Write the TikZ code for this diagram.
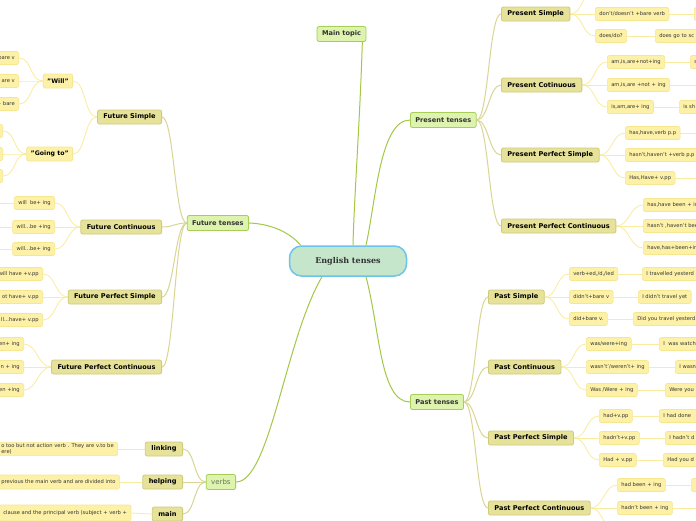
\documentclass[tikz,border=0pt]{standalone}
\usepackage{fontspec}
\setmainfont{DejaVu Sans}
\newfontfamily\cfont{DejaVu Serif}
\usetikzlibrary{calc,backgrounds}
\definecolor{cline}{HTML}{A3C846}
\definecolor{lonefill}{HTML}{DDF3AE}
\definecolor{lonedraw}{HTML}{A8CE5A}
\definecolor{ltwofill}{HTML}{E6E29A}
\definecolor{ltwodraw}{HTML}{D0CB7A}
\definecolor{ltwoline}{HTML}{D9D595}
\definecolor{leaffill}{HTML}{FDF1A8}
\definecolor{leafdraw}{HTML}{F7E690}
\definecolor{leafline}{HTML}{FAEC9E}
\definecolor{cfill}{HTML}{C6E6CB}
\definecolor{cdraw}{HTML}{6DC3EA}
\definecolor{txt}{HTML}{333333}
\definecolor{verbtxt}{HTML}{667755}
\begin{document}
\begin{tikzpicture}[x=1pt,y=-1pt,
  centre/.style={draw=cdraw,fill=cfill,line width=1.5pt,rounded corners=12pt,minimum width=117pt,minimum height=30pt,inner sep=0pt,font=\cfont\bfseries\fontsize{8}{9}\selectfont,text=txt},
  lone/.style={draw=lonedraw,fill=lonefill,line width=0.8pt,rounded corners=2pt,minimum height=15pt,inner xsep=5pt,inner ysep=0pt,font=\bfseries\fontsize{6.6}{8}\selectfont,text=txt},
  ltwo/.style={draw=ltwodraw,fill=ltwofill,line width=0.8pt,rounded corners=2pt,minimum height=14pt,inner xsep=6pt,inner ysep=0pt,font=\bfseries\fontsize{6.6}{8}\selectfont,text=black},
  leaf/.style={draw=leafdraw,fill=leaffill,line width=0.6pt,rounded corners=2pt,minimum height=13pt,inner xsep=4pt,inner ysep=1pt,font=\fontsize{5.2}{6.5}\selectfont,text=txt},
  rcut/.style={text width=60pt,align=left},
  emptyleaf/.style={leaf,minimum width=30pt},
  ccon/.style={draw=cline,line width=1pt},
  tcon/.style={draw=ltwoline,line width=1pt},
  fcon/.style={draw=leafline,line width=0.8pt}]
\useasboundingbox (0,0) rectangle (696,520);
\clip (0,0) rectangle (696,520);

% ---- central and level 1
\node[centre] (c) at (348,261) {English tenses};
\node[lone] (mt) at (341.5,34) {Main topic};
\node[lone,anchor=west] (pt) at (410,120) {Present tenses};
\node[lone,anchor=east] (ft) at (249,223) {Future tenses};
\node[lone,anchor=west] (pat) at (410,402) {Past tenses};
\node[lone,anchor=east,font=\fontsize{7}{8}\selectfont,text=verbtxt,inner xsep=5pt] (vb) at (236,482) {verbs};

% ---- level 2 right
\node[ltwo,anchor=west] (ps) at (501,14) {Present Simple};
\node[ltwo,anchor=west] (pc) at (501,85) {Present Cotinuous};
\node[ltwo,anchor=west] (pps) at (501,155) {Present Perfect Simple};
\node[ltwo,anchor=west] (ppc) at (501,226) {Present Perfect Continuous};
\node[ltwo,anchor=west] (pas) at (488,297) {Past Simple};
\node[ltwo,anchor=west] (pac) at (488,367) {Past Continuous};
\node[ltwo,anchor=west] (paps) at (488,438) {Past Perfect Simple};
\node[ltwo,anchor=west] (papc) at (488,508) {Past Perfect Continuous};
% ---- level 2 left
\node[ltwo,anchor=east] (fs) at (162,117) {Future Simple};
\node[ltwo,anchor=east] (fc) at (162,227) {Future Continuous};
\node[ltwo,anchor=east] (fps) at (162,297) {Future Perfect Simple};
\node[ltwo,anchor=east] (fpc) at (162,367) {Future Perfect Continuous};
\node[ltwo,anchor=east] (lk) at (183,449) {linking};
\node[ltwo,anchor=east] (hp) at (183,482) {helping};
\node[ltwo,anchor=east] (mn) at (183,514) {main};

% ---- present leaves
\coordinate (ps1) at (595,-10);
\node[leaf,anchor=west] (ps2) at (595,14) {don't/doesn't +bare verb};
\node[emptyleaf,anchor=west] (ps2c) at (694,14) {};
\node[leaf,anchor=west] (ps3) at (595,36) {does/do?};
\node[leaf,anchor=west,rcut] (ps3c) at (655,36) {does go to sc};
\node[leaf,anchor=west] (pc1) at (607,62) {am,is,are+not+ing};
\node[leaf,anchor=west,rcut] (pc1c) at (690,62) {s};
\node[leaf,anchor=west] (pc2) at (607,85) {am,is,are +not + ing};
\coordinate (pc2c) at (700,85);
\node[leaf,anchor=west] (pc3) at (607,107) {is,am,are+ ing};
\node[leaf,anchor=west,rcut] (pc3c) at (679,107) {is sh};
\node[leaf,anchor=west] (pps1) at (625,133) {has,have,verb p.p};
\coordinate (pps1c) at (700,133);
\node[leaf,anchor=west] (pps2) at (625,155) {hasn't,haven't +verb p.p};
\node[leaf,anchor=west] (pps3) at (625,178) {Has,Have+ v.pp};
\coordinate (pps3c) at (700,178);
\node[leaf,anchor=west,rcut] (ppc1) at (643,205) {has,have been + in};
\node[leaf,anchor=west,rcut] (ppc2) at (643,226) {hasn't ,haven't bee};
\node[leaf,anchor=west,rcut] (ppc3) at (643,248) {have,has+been+in};

% ---- past leaves
\node[leaf,anchor=west] (pas1) at (569,274) {verb+ed,/d,/ied};
\node[leaf,anchor=west,rcut] (pas1c) at (642,274) {I travelled yesterd};
\node[leaf,anchor=west] (pas2) at (569,297) {didn't+bare v};
\node[leaf,anchor=west] (pas2c) at (638,297) {I didn't travel yet};
\node[leaf,anchor=west] (pas3) at (569,319) {did+bare v.};
\node[leaf,anchor=west,rcut] (pas3c) at (633,319) {Did you travel yesterd};
\node[leaf,anchor=west] (pac1) at (586,344) {was/were+ing};
\node[leaf,anchor=west,rcut] (pac1c) at (659,344) {I\ \ was watch};
\node[leaf,anchor=west] (pac2) at (586,367) {wasn't'/weren't+ ing};
\node[leaf,anchor=west,rcut] (pac2c) at (675,367) {I wasn};
\node[leaf,anchor=west] (pac3) at (586,390) {Was /Were + ing};
\node[leaf,anchor=west,rcut] (pac3c) at (665,390) {Were you};
\node[leaf,anchor=west] (paps1) at (599,416) {had+v.pp};
\node[leaf,anchor=west,rcut] (paps1c) at (659,416) {I had done};
\node[leaf,anchor=west] (paps2) at (599,438) {hadn't+v.pp};
\node[leaf,anchor=west,rcut] (paps2c) at (665,438) {I hadn't d};
\node[leaf,anchor=west] (paps3) at (599,460) {Had + v.pp};
\node[leaf,anchor=west,rcut] (paps3c) at (663,460) {Had you d};
\node[leaf,anchor=west] (papc1) at (617,485) {had been + ing};
\node[emptyleaf,anchor=west] (papc1c) at (691,485) {};
\node[leaf,anchor=west] (papc2) at (617,508) {hadn't been + ing};
\coordinate (papc2c) at (700,508);
\coordinate (papc3) at (617,534);

% ---- future leaves
\node[ltwo,anchor=east,font=\bfseries\fontsize{6.2}{8}\selectfont,draw=leafdraw,fill=leaffill,inner xsep=4pt,minimum height=14pt] (wl) at (73,81) {"Will"};
\node[ltwo,anchor=east,font=\bfseries\fontsize{6.2}{8}\selectfont,draw=leafdraw,fill=leaffill,inner xsep=4pt,minimum height=14pt] (gt) at (73,154) {"Going to"};
\node[leaf,anchor=east] (wl1) at (19,58) {bare v};
\node[leaf,anchor=east] (wl2) at (19,81) {are v};
\node[leaf,anchor=east] (wl3) at (19,104) {+ bare};
\node[emptyleaf,anchor=east] (gt1) at (3,131) {};
\node[emptyleaf,anchor=east] (gt2) at (3,154) {};
\node[emptyleaf,anchor=east] (gt3) at (3,176) {};
\node[leaf,anchor=east] (fc1) at (55,203) {will\ \ be+ ing};
\node[leaf,anchor=east] (fc2) at (55,227) {will...be +ing};
\node[leaf,anchor=east] (fc3) at (55,249) {will...be+ ing};
\coordinate (fc1c) at (-6,203);
\coordinate (fc2c) at (-6,227);
\coordinate (fc3c) at (-6,249);
\node[leaf,anchor=east] (fps1) at (43,274) {will have +v.pp};
\node[leaf,anchor=east] (fps2) at (43,297) {ot have+ v.pp};
\node[leaf,anchor=east] (fps3) at (43,320) {ll...have+ v.pp};
\node[leaf,anchor=east] (fpc1) at (24,344) {en+ ing};
\node[leaf,anchor=east] (fpc2) at (24,367) {n + ing};
\node[leaf,anchor=east] (fpc3) at (24,390) {en +ing};

% ---- verb leaves
\node[leaf,anchor=west,align=left] (vl1) at (-3,449) {o too but not action verb . They are v.to be\\ere)};
\node[leaf,anchor=west,align=left,minimum height=14pt] (vl2) at (-3,482) {previous the main verb and are divided into};
\node[leaf,anchor=west,align=left,minimum height=16pt] (vl3) at (-1,513) {clause and the principal verb (subject + verb +};

\begin{pgfonlayer}{background}
\fill[white] (0,0) rectangle (696,520);
% central connectors
\draw[ccon] ($(mt.south east)+(-4,0)$) .. controls (360,120) and (354,200) .. ($(c.north)+(5,0)$);
\draw[ccon] ($(c.north)+(18,0)$) .. controls (376,200) and (380,120) .. (pt.west);
\draw[ccon] (ft.east) .. controls (275,224) and (292,235) .. ($(c.north west)+(12,0)$);
\draw[ccon] ($(c.south)+(18,0)$) .. controls (380,330) and (380,402) .. (pat.west);
\draw[ccon] ($(c.south)+(-26,0)$) .. controls (285,340) and (270,482) .. (vb.east);
% level 1 -> 2
\foreach \t in {ps,pc,pps,ppc} \draw[tcon] (pt.east) .. controls +(12,0) and +(-12,0) .. (\t.west);
\foreach \t in {pas,pac,paps,papc} \draw[tcon] (pat.east) .. controls +(12,0) and +(-12,0) .. (\t.west);
\foreach \t in {fs,fc,fps,fpc} \draw[tcon] (ft.west) .. controls +(-12,0) and +(12,0) .. (\t.east);
\foreach \t in {lk,hp,mn} \draw[tcon] (vb.west) .. controls +(-12,0) and +(12,0) .. (\t.east);
% level 2 -> leaves (right)
\draw[fcon] (ps.east) .. controls +(13,0) and +(-13,0) .. (ps1);
\foreach \t in {ps2,ps3} \draw[fcon] (ps.east) .. controls +(13,0) and +(-13,0) .. (\t.west);
\foreach \t in {pc1,pc2,pc3} \draw[fcon] (pc.east) .. controls +(13,0) and +(-13,0) .. (\t.west);
\foreach \t in {pps1,pps2,pps3} \draw[fcon] (pps.east) .. controls +(13,0) and +(-13,0) .. (\t.west);
\foreach \t in {ppc1,ppc2,ppc3} \draw[fcon] (ppc.east) .. controls +(13,0) and +(-13,0) .. (\t.west);
\foreach \t in {pas1,pas2,pas3} \draw[fcon] (pas.east) .. controls +(13,0) and +(-13,0) .. (\t.west);
\foreach \t in {pac1,pac2,pac3} \draw[fcon] (pac.east) .. controls +(13,0) and +(-13,0) .. (\t.west);
\foreach \t in {paps1,paps2,paps3} \draw[fcon] (paps.east) .. controls +(13,0) and +(-13,0) .. (\t.west);
\foreach \t in {papc1,papc2} \draw[fcon] (papc.east) .. controls +(13,0) and +(-13,0) .. (\t.west);
\draw[fcon] (papc.east) .. controls +(13,0) and +(-13,0) .. (papc3);
\draw[fcon] (ps2.east) -- (ps2c.west);
\draw[fcon] (ps3.east) -- (ps3c.west);
\draw[fcon] (pc1.east) -- (pc1c.west);
\draw[fcon] (pc2.east) -- (pc2c);
\draw[fcon] (pc3.east) -- (pc3c.west);
\draw[fcon] (pps1.east) -- (pps1c);
\draw[fcon] (pps3.east) -- (pps3c);
\draw[fcon] (pas1.east) -- (pas1c.west);
\draw[fcon] (pas2.east) -- (pas2c.west);
\draw[fcon] (pas3.east) -- (pas3c.west);
\draw[fcon] (pac1.east) -- (pac1c.west);
\draw[fcon] (pac2.east) -- (pac2c.west);
\draw[fcon] (pac3.east) -- (pac3c.west);
\draw[fcon] (paps1.east) -- (paps1c.west);
\draw[fcon] (paps2.east) -- (paps2c.west);
\draw[fcon] (paps3.east) -- (paps3c.west);
\draw[fcon] (papc1.east) -- (papc1c.west);
\draw[fcon] (papc2.east) -- (papc2c);
% level 2 -> leaves (left)
\foreach \t in {wl,gt} \draw[fcon] (fs.west) .. controls +(-13,0) and +(13,0) .. (\t.east);
\foreach \t in {wl1,wl2,wl3} \draw[fcon] (wl.west) .. controls +(-13,0) and +(13,0) .. (\t.east);
\foreach \t in {gt1,gt2,gt3} \draw[fcon] (gt.west) .. controls +(-13,0) and +(13,0) .. (\t.east);
\foreach \t in {fc1,fc2,fc3} \draw[fcon] (fc.west) .. controls +(-13,0) and +(13,0) .. (\t.east);
\foreach \t in {fps1,fps2,fps3} \draw[fcon] (fps.west) .. controls +(-13,0) and +(13,0) .. (\t.east);
\foreach \t in {fpc1,fpc2,fpc3} \draw[fcon] (fpc.west) .. controls +(-13,0) and +(13,0) .. (\t.east);
\draw[fcon] (fc1.west) -- (fc1c);
\draw[fcon] (fc2.west) -- (fc2c);
\draw[fcon] (fc3.west) -- (fc3c);
\draw[fcon] (lk.west) -- (vl1.east);
\draw[fcon] (hp.west) -- (vl2.east);
\draw[fcon] (mn.west) -- (vl3.east);
\end{pgfonlayer}
\end{tikzpicture}
\end{document}
